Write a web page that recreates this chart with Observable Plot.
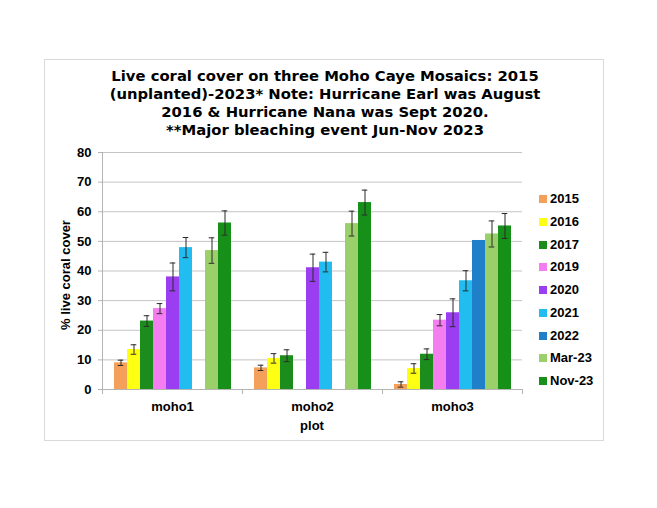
<!DOCTYPE html>
<html>
<head>
<meta charset="utf-8">
<script src="https://cdn.jsdelivr.net/npm/d3@7"></script>
<script src="https://cdn.jsdelivr.net/npm/@observablehq/plot@0.6"></script>
<style>
  html, body { margin: 0; padding: 0; background: #fff; }
  #wrap { position: relative; width: 657px; height: 508px; font-family: "Liberation Sans", Arial, sans-serif; font-weight: bold; color: #000; }
  #wrap svg { position: absolute; left: 0; top: 0; }
  #frame { position: absolute; left: 44px; top: 59px; width: 558px; height: 380px; border: 1.5px solid #d9d9d9; }
  #title { position: absolute; left: 44px; width: 562px; top: 67px; text-align: center; font-family: "DejaVu Sans", sans-serif; font-size: 14.8px; line-height: 18px; }
  #ylab { position: absolute; left: 65px; top: 275px; transform: translate(-50%, -50%) rotate(-90deg); font-size: 13px; }
  #xlab { position: absolute; left: 312px; top: 425px; transform: translate(-50%, -50%); font-size: 13px; }
  .leg { position: absolute; left: 539px; font-size: 13px; height: 16px; line-height: 16px; }
  .leg span.sw { display: inline-block; width: 8px; height: 8px; margin-right: 3px; vertical-align: 0px; }
</style>
</head>
<body>
<div id="wrap">
  <div id="frame"></div>
  <div id="title"></div>
  <div id="ylab"></div>
  <div id="xlab"></div>
</div>
<script>
const titleLines = [
  "Live coral cover on three Moho Caye Mosaics: 2015",
  "(unplanted)-2023* Note: Hurricane Earl was August",
  "2016 & Hurricane Nana was Sept 2020.",
  "**Major bleaching event Jun-Nov 2023"
];
const yLabel = "% live coral cover";
const xLabel = "plot";
const plots = ["moho1", "moho2", "moho3"];
const years = ["2015", "2016", "2017", "2019", "2020", "2021", "2022", "Mar-23", "Nov-23"];
const colors = ["#f5a05a", "#ffff14", "#1c8c1c", "#f47ef0", "#9b3ef2", "#22bdf0", "#1f7fc8", "#9bcf6a", "#17901a"];
const yTicks = [0, 10, 20, 30, 40, 50, 60, 70, 80];

const moho1 = [9.0, 13.5, 23.1, 27.3, 38.0, 47.9, null, 46.9, 56.2];
const moho1Err = [0.9, 1.6, 1.8, 1.7, 4.7, 3.4, null, 4.3, 4.1];
const moho2 = [7.3, 10.5, 11.4, null, 41.1, 43.0, null, 56.0, 63.1];
const moho2Err = [0.9, 1.6, 2.0, null, 4.6, 3.3, null, 4.2, 4.2];
const moho3 = [1.7, 7.1, 11.9, 23.4, 25.9, 36.7, 50.3, 52.5, 55.2];
const moho3Err = [0.9, 1.6, 1.8, 1.9, 4.7, 3.4, null, 4.4, 4.2];

const series = [[moho1, moho1Err], [moho2, moho2Err], [moho3, moho3Err]];
const rows = [];
plots.forEach((p, pi) => {
  years.forEach((yr, yi) => {
    const v = series[pi][0][yi];
    const e = series[pi][1][yi];
    if (v != null) rows.push({plot: p, year: yr, value: v, err: e});
  });
});
const errRows = rows.filter(d => d.err != null);

document.getElementById("title").innerHTML = titleLines.map(t => `<div>${t.replace(/&/g, "&amp;")}</div>`).join("");
document.getElementById("ylab").textContent = yLabel;
document.getElementById("xlab").textContent = xLabel;

const wrap = document.getElementById("wrap");
years.forEach((yr, i) => {
  const d = document.createElement("div");
  d.className = "leg";
  d.style.top = (191 + i * 22.75) + "px";
  d.innerHTML = `<span class="sw" style="background:${colors[i]}"></span>${yr}`;
  wrap.appendChild(d);
});

const axisGray = "#b4b4b4";
const chart = Plot.plot({
  width: 657,
  height: 508,
  marginLeft: 101,
  marginRight: 134,
  marginTop: 152,
  marginBottom: 119,
  style: {background: "transparent", fontFamily: "'Liberation Sans', Arial, sans-serif", fontWeight: "bold", fontSize: "13px", color: "#000"},
  fx: {domain: plots, padding: 0, label: null},
  x: {domain: years, paddingInner: 0, paddingOuter: 0.76, axis: null},
  y: {domain: [0, 80], axis: null},
  color: {domain: years, range: colors},
  marks: [
    Plot.ruleY(yTicks.slice(1), {stroke: "#c4c4c4", strokeWidth: 1}),
    Plot.frame({anchor: "left", stroke: axisGray, fx: () => "moho1"}),
    Plot.frame({anchor: "left", stroke: axisGray, insetTop: 237, insetBottom: -4}),
    Plot.frame({anchor: "right", stroke: axisGray, insetTop: 237, insetBottom: -4, fx: () => "moho3"}),
    Plot.axisY(yTicks, {anchor: "left", tickSize: 4, tickPadding: 7, stroke: axisGray, fill: "#000", fontSize: 13, fontWeight: "bold", label: null}),
    Plot.barY(rows, {fx: "plot", x: "year", y: "value", fill: "year"}),
    Plot.ruleY([0], {stroke: axisGray}),
    Plot.ruleX(errRows, {fx: "plot", x: "year", y1: d => d.value - d.err, y2: d => d.value + d.err, stroke: "#2a2a2a", strokeWidth: 1}),
    Plot.tickY(errRows, {fx: "plot", x: "year", y: d => d.value + d.err, stroke: "#2a2a2a", strokeWidth: 1, insetLeft: 3.7, insetRight: 3.7}),
    Plot.tickY(errRows, {fx: "plot", x: "year", y: d => d.value - d.err, stroke: "#2a2a2a", strokeWidth: 1, insetLeft: 3.7, insetRight: 3.7}),
    Plot.axisFx({anchor: "bottom", tickSize: 0, tickPadding: 12, fontSize: 13, fontWeight: "bold", fill: "#000", label: null})
  ]
});
wrap.appendChild(chart);
</script>
</body>
</html>
